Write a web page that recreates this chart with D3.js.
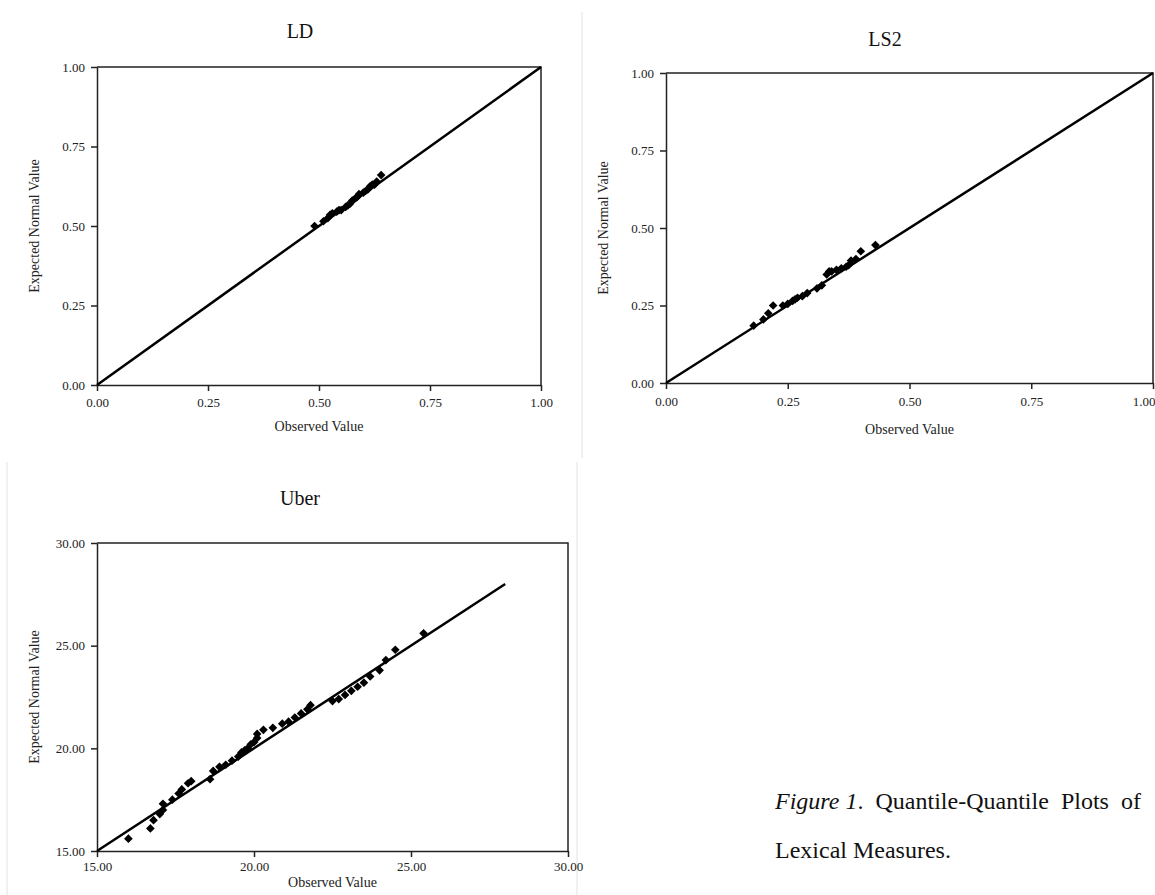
<!DOCTYPE html>
<html>
  <body style="margin:0;background:#fff">
    <script src="https://d3js.org/d3.v7.min.js"></script>
    <script type="text/javascript">
      const ldObserved = [0.49, 0.51, 0.52, 0.525, 0.53, 0.54, 0.545, 0.55, 0.56, 0.565, 0.57, 0.575, 0.58, 0.585, 0.59, 0.60, 0.605, 0.61, 0.615, 0.62, 0.625, 0.63, 0.64];
      const ldExpected = [0.50, 0.515, 0.525, 0.535, 0.54, 0.545, 0.55, 0.55, 0.56, 0.565, 0.57, 0.58, 0.585, 0.59, 0.60, 0.605, 0.61, 0.615, 0.625, 0.63, 0.63, 0.64, 0.66];

      const ls2Observed = [0.18, 0.20, 0.21, 0.22, 0.24, 0.25, 0.26, 0.265, 0.27, 0.28, 0.29, 0.31, 0.32, 0.33, 0.335, 0.34, 0.35, 0.36, 0.37, 0.375, 0.38, 0.39, 0.40, 0.43];
      const ls2Expected = [0.185, 0.205, 0.225, 0.25, 0.25, 0.255, 0.265, 0.27, 0.275, 0.28, 0.29, 0.305, 0.315, 0.35, 0.36, 0.36, 0.365, 0.37, 0.375, 0.38, 0.395, 0.40, 0.425, 0.445];

      const uberObserved = [16.0, 16.7, 16.8, 17.0, 17.1, 17.1, 17.4, 17.6, 17.7, 17.9, 18.0, 18.6, 18.7, 18.9, 19.1, 19.3, 19.5, 19.6, 19.7, 19.8, 19.9, 20.0, 20.1, 20.1, 20.3, 20.6, 20.9, 21.1, 21.3, 21.5, 21.7, 21.8, 22.5, 22.7, 22.9, 23.1, 23.3, 23.5, 23.7, 24.0, 24.2, 24.5, 25.4];
      const uberExpected = [15.6, 16.1, 16.5, 16.8, 17.0, 17.3, 17.5, 17.8, 18.0, 18.3, 18.4, 18.5, 18.9, 19.1, 19.2, 19.4, 19.6, 19.8, 19.9, 20.0, 20.2, 20.3, 20.5, 20.7, 20.9, 21.0, 21.2, 21.3, 21.5, 21.7, 21.9, 22.1, 22.3, 22.4, 22.6, 22.8, 23.0, 23.2, 23.5, 23.8, 24.3, 24.8, 25.6];

      const unitTicks = [0, 0.25, 0.5, 0.75, 1];
      const uberTicks = [15, 20, 25, 30];
      const unitLine = [0, 1];
      const uberLine = [15, 28];

      const captionWords = [['Figure 1', true, '.'], ['Quantile-Quantile'], ['Plots'], ['of']];
      const captionLine2 = 'Lexical Measures.';

      const font = "'Liberation Serif', 'Times New Roman', serif";
      const fmt = d3.format('.2f');

      const svg = d3.select('body')
        .append('svg')
        .attr('width', 1155)
        .attr('height', 895)
        .style('font-family', font);

      // faint panel borders from the source document
      svg.append('line').attr('x1', 582).attr('x2', 582).attr('y1', 12).attr('y2', 458)
        .attr('stroke', '#e2e2e2');
      svg.append('line').attr('x1', 7).attr('x2', 7).attr('y1', 462).attr('y2', 895)
        .attr('stroke', '#e2e2e2');
      svg.append('line').attr('x1', 577).attr('x2', 577).attr('y1', 462).attr('y2', 895)
        .attr('stroke', '#e2e2e2');

      function renderPanel(p) {
        const x = d3.scaleLinear().domain(p.domain).range([p.left, p.right]);
        const y = d3.scaleLinear().domain(p.domain).range([p.bottom, p.top]);
        const g = svg.append('g');

        g.append('text')
          .attr('x', p.titleX)
          .attr('y', p.titleY)
          .attr('text-anchor', 'middle')
          .attr('font-size', 20)
          .attr('fill', '#111')
          .text(p.title);

        const xAxis = g.append('g')
          .attr('transform', `translate(0,${p.bottom})`)
          .call(d3.axisBottom(x).tickValues(p.ticks).tickFormat(fmt).tickSize(6).tickSizeOuter(0));
        const yAxis = g.append('g')
          .attr('transform', `translate(${p.left},0)`)
          .call(d3.axisLeft(y).tickValues(p.ticks).tickFormat(fmt).tickSize(6).tickSizeOuter(0));

        [xAxis, yAxis].forEach((a) => {
          a.attr('font-family', font);
          a.select('.domain').attr('stroke', '#222').attr('stroke-width', 1.5);
          a.selectAll('.tick line').attr('stroke', '#222').attr('stroke-width', 1.5);
          a.selectAll('.tick text')
            .attr('font-size', 13)
            .attr('fill', '#222');
        });
        xAxis.selectAll('.tick text').attr('y', p.tickGap).attr('dy', '0.71em');
        yAxis.selectAll('.tick text').attr('x', -12);
        if (p.lastTickEnd) {
          xAxis.selectAll('.tick text')
            .filter((d) => d === p.domain[1])
            .attr('text-anchor', 'end')
            .attr('x', 1155 - p.right);
        }

        // top and right frame
        g.append('path')
          .attr('d', `M${p.left},${p.top}H${p.right}V${p.bottom}`)
          .attr('fill', 'none')
          .attr('stroke', '#222')
          .attr('stroke-width', 1.5);

        g.append('text')
          .attr('x', (p.left + p.right) / 2)
          .attr('y', p.bottom + p.labelGap)
          .attr('text-anchor', 'middle')
          .attr('font-size', 14)
          .attr('fill', '#222')
          .text('Observed Value');

        g.append('text')
          .attr('transform', `translate(${p.left - 58},${(p.top + p.bottom) / 2}) rotate(-90)`)
          .attr('text-anchor', 'middle')
          .attr('font-size', 14)
          .attr('fill', '#222')
          .text('Expected Normal Value');

        g.append('line')
          .attr('x1', x(p.line[0]))
          .attr('y1', y(p.line[0]))
          .attr('x2', x(p.line[1]))
          .attr('y2', y(p.line[1]))
          .attr('stroke', '#000')
          .attr('stroke-width', 2.5);

        const pts = p.observed.map((d, i) => [d, p.expected[i]]);
        g.selectAll('path.pt')
          .data(pts)
          .enter()
          .append('path')
          .attr('class', 'pt')
          .attr('d', d3.symbol(d3.symbolDiamond2, 48))
          .attr('transform', (d) => `translate(${x(d[0])},${y(d[1])})`)
          .attr('fill', '#000');
      }

      renderPanel({
        title: 'LD', titleX: 300, titleY: 38,
        left: 97, right: 541, top: 67, bottom: 385,
        tickGap: 13, labelGap: 46,
        domain: [0, 1], ticks: unitTicks, line: unitLine,
        observed: ldObserved, expected: ldExpected,
      });
      renderPanel({
        title: 'LS2', titleX: 885, titleY: 46,
        left: 666, right: 1153, top: 73, bottom: 383,
        tickGap: 14, labelGap: 51, lastTickEnd: true,
        domain: [0, 1], ticks: unitTicks, line: unitLine,
        observed: ls2Observed, expected: ls2Expected,
      });
      renderPanel({
        title: 'Uber', titleX: 300, titleY: 505,
        left: 97, right: 568, top: 543, bottom: 851,
        tickGap: 11, labelGap: 36,
        domain: [15, 30], ticks: uberTicks, line: uberLine,
        observed: uberObserved, expected: uberExpected,
      });

      // caption, first line justified between captionLeft and captionRight
      const captionLeft = 775;
      const captionRight = 1141;
      const caption = svg.append('g')
        .attr('font-size', 24)
        .attr('fill', '#111');
      const words = captionWords.map((w) => {
        const t = caption.append('text').attr('y', 809);
        t.append('tspan').attr('font-style', w[1] ? 'italic' : null).text(w[0]);
        if (w[2]) t.append('tspan').text(w[2]);
        return t;
      });
      const widths = words.map((t) => t.node().getComputedTextLength());
      const gap = (captionRight - captionLeft - d3.sum(widths)) / (words.length - 1);
      let cx = captionLeft;
      words.forEach((t, i) => {
        t.attr('x', cx);
        cx += widths[i] + gap;
      });
      caption.append('text')
        .attr('x', captionLeft)
        .attr('y', 858)
        .text(captionLine2);
    </script>
  </body>
</html>
